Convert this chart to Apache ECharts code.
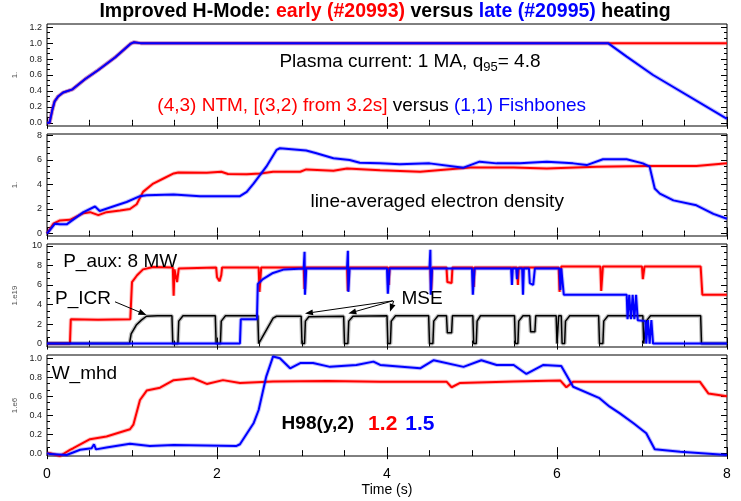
<!DOCTYPE html>
<html><head><meta charset="utf-8">
<script src="https://cdn.jsdelivr.net/npm/echarts@6.0.0/dist/echarts.min.js"></script>
<style>html,body{margin:0;padding:0;background:#fff}#c{width:741px;height:501px}</style>
</head><body><div id="c"></div><script>
// ---------------- data (time in s, value) ----------------
const ipEarly = [[0,0],[0.03,0],[0.06,0.15],[0.09,0.27],[0.13,0.33],[0.19,0.38],[0.3,0.42],[0.45,0.55],[0.6,0.66],[0.8,0.82],[0.98,0.99],[1.02,1.01],[1.1,1.0],[8,1.0]];
const ipLate = [[0,0],[0.03,0],[0.06,0.15],[0.09,0.27],[0.13,0.33],[0.19,0.38],[0.3,0.42],[0.45,0.55],[0.6,0.66],[0.8,0.82],[0.98,0.99],[1.02,1.01],[1.1,1.0],[6.6,1.0],[6.82,0.83],[7.13,0.6],[8.0,0.05]];
const neEarly = [[0,0],[0.02,0],[0.075,0.8],[0.153,1.07],[0.27,1.12],[0.43,1.66],[0.506,1.74],[0.604,1.5],[0.7,1.74],[0.86,1.88],[0.976,2.0],[1.055,2.38],[1.13,3.39],[1.25,4.07],[1.37,4.48],[1.49,4.89],[1.545,4.97],[1.88,4.95],[2.05,5.03],[2.13,4.84],[2.35,4.82],[2.51,4.89],[2.66,5.03],[2.98,5.03],[3.05,5.22],[3.37,5.11],[3.53,5.3],[3.92,5.16],[4.39,5.03],[4.98,5.38],[5.49,5.38],[5.88,5.3],[6.47,5.44],[7.05,5.49],[7.64,5.49],[8.0,5.71]];
const neLate = [[0,0],[0.02,0],[0.094,0.8],[0.153,0.75],[0.231,0.75],[0.43,1.74],[0.565,2.2],[0.62,1.84],[0.82,2.3],[0.937,2.57],[1.094,3.04],[1.173,3.11],[1.49,3.17],[1.8,3.04],[2.27,3.04],[2.35,3.39],[2.43,4.07],[2.58,5.44],[2.7,6.8],[2.74,6.94],[3.05,6.75],[3.17,6.53],[3.37,6.12],[3.56,5.98],[3.68,5.76],[3.92,5.71],[4.15,5.63],[4.5,5.71],[4.9,5.36],[5.09,5.85],[5.29,5.71],[5.56,5.71],[5.88,5.85],[6.19,5.71],[6.35,5.57],[6.54,6.04],[6.82,6.04],[7.01,5.71],[7.09,5.44],[7.15,3.66],[7.21,3.25],[7.37,2.7],[7.64,2.3],[7.84,1.6],[8.0,1.2]];
const pauxEarly = [[0,0],[0.27,0],[0.28,2.5],[0.6,2.45],[0.98,2.5],[1.0,6.3],[1.06,7.0],[1.13,7.6],[1.25,7.85],[1.48,7.8],[1.49,4.9],[1.5,7.6],[1.52,7.5],[1.53,6.3],[1.55,7.7],[1.99,7.8],[2.0,6.8],[2.03,6.4],[2.05,7.0],[2.06,7.8],[2.49,7.8],[2.5,5.3],[2.52,7.8],[3.02,7.8],[3.03,5.6],[3.04,7.8],[3.53,7.8],[3.54,5.4],[3.55,7.8],[4.01,7.8],[4.02,6.0],[4.03,7.8],[4.51,7.8],[4.52,5.5],[4.53,7.8],[4.7,7.8],[4.71,6.3],[4.76,6.2],[4.77,7.8],[5.01,7.8],[5.02,5.8],[5.03,7.8],[5.53,7.8],[5.54,6.0],[5.55,7.8],[6.02,7.8],[6.03,5.3],[6.05,7.9],[6.51,7.9],[6.52,5.4],[6.54,7.9],[7.0,7.9],[7.01,6.6],[7.03,7.9],[7.69,7.9],[7.71,5.0],[8,5.0]];
const pauxLate = [[0,0],[2.27,0],[2.28,2.5],[2.47,2.5],[2.48,6.1],[2.54,6.6],[2.65,7.2],[2.79,7.6],[3.02,7.7],[3.03,9.4],[3.035,5.0],[3.05,7.7],[3.53,7.7],[3.54,9.5],[3.545,5.3],[3.56,7.7],[4.0,7.7],[4.01,5.1],[4.03,7.7],[4.5,7.7],[4.51,9.6],[4.515,5.0],[4.53,7.7],[5.0,7.7],[5.01,5.0],[5.03,7.7],[5.46,7.7],[5.47,6.0],[5.48,7.7],[5.52,7.7],[5.53,6.6],[5.54,7.7],[5.59,7.7],[5.6,5.0],[5.61,7.7],[5.67,7.7],[5.68,6.2],[5.72,6.0],[5.74,7.7],[6.03,7.7],[6.04,5.5],[6.05,7.7],[6.07,7.7],[6.08,5.0],[6.82,5.0],[6.83,2.5],[6.85,5.0],[6.87,2.5],[6.89,5.0],[6.91,2.5],[6.93,5.0],[6.95,2.4],[7.04,2.3],[7.05,0],[7.07,2.4],[7.09,0],[7.11,2.4],[7.13,0],[8,0]];
const picr = [[0,0],[0.97,0],[0.99,1.0],[1.05,1.9],[1.11,2.4],[1.17,2.8],[1.3,2.85],[1.47,2.85],[1.48,0],[1.54,0],[1.55,2.3],[1.6,2.85],[1.98,2.85],[1.99,0],[2.04,0],[2.05,2.3],[2.1,2.85],[2.48,2.85],[2.49,0],[2.66,2.6],[2.7,2.8],[2.99,2.8],[3.0,0],[3.03,0],[3.04,2.3],[3.08,2.75],[3.49,2.8],[3.5,0],[3.54,0],[3.55,2.3],[3.6,2.8],[4.0,2.85],[4.01,0],[4.04,0],[4.05,2.3],[4.1,2.85],[4.49,2.85],[4.5,0],[4.54,0],[4.55,2.3],[4.6,2.85],[4.7,2.85],[4.71,1.1],[4.76,1.1],[4.77,2.85],[5.01,2.85],[5.02,0],[5.05,0],[5.06,2.3],[5.1,2.85],[5.5,2.85],[5.51,0],[5.54,0],[5.55,2.3],[5.6,2.85],[5.68,2.85],[5.69,1.2],[5.74,1.2],[5.75,2.85],[5.99,2.85],[6.0,0],[6.02,2.85],[6.05,2.85],[6.06,0],[6.09,0],[6.1,2.3],[6.15,2.85],[6.49,2.85],[6.5,0],[6.54,0],[6.55,2.3],[6.6,2.85],[7.01,2.85],[7.02,0],[7.04,0],[7.05,2.3],[7.1,2.85],[7.69,2.85],[7.7,0],[8,0]];
const wEarly = [[0,0],[0.035,0],[0.153,-0.03],[0.27,0.035],[0.31,0.052],[0.506,0.147],[0.7,0.175],[0.976,0.252],[1.016,0.3],[1.094,0.56],[1.173,0.66],[1.33,0.69],[1.49,0.77],[1.72,0.79],[1.88,0.73],[2.07,0.77],[2.27,0.74],[2.66,0.755],[3.3,0.76],[3.92,0.754],[4.7,0.754],[4.76,0.695],[4.86,0.74],[5.49,0.755],[6.04,0.765],[6.11,0.695],[6.19,0.754],[7.68,0.754],[7.78,0.63],[8.0,0.6]];
const wLate = [[0,0],[0.035,-0.01],[0.23,-0.02],[0.39,0.036],[0.525,0.052],[0.553,0.094],[0.576,0.04],[0.7,0.06],[0.976,0.1],[1.21,0.076],[1.49,0.087],[2.23,0.076],[2.27,0.094],[2.43,0.315],[2.49,0.455],[2.58,0.81],[2.66,1.02],[2.74,1.0],[2.86,0.895],[2.98,0.95],[3.13,0.95],[3.33,0.91],[3.64,0.93],[3.84,0.965],[3.92,0.93],[4.39,0.895],[4.55,0.98],[4.9,0.91],[5.11,0.98],[5.29,0.93],[5.49,0.93],[5.64,0.835],[5.84,0.93],[6.05,0.92],[6.19,0.7],[6.5,0.58],[6.62,0.49],[6.74,0.42],[6.9,0.315],[7.05,0.21],[7.15,0.041],[7.45,0.016],[8.0,-0.02]];

// tick labels
const timeTicks = [0,2,4,6,8];
const ipTicks = [0,0.2,0.4,0.6,0.8,1.0,1.2];
const neTicks = [0,2,4,6,8];
const pTicks = [0,2,4,6,8,10];
const wTicks = [0,0.2,0.4,0.6,0.8,1.0];

const RED = '#ff0000', BLUE = '#0000ff', BLACK = '#000000';
const FONT = '"Liberation Sans", Arial, Helvetica, sans-serif';

const panels = [
  {top:24, height:102, min:-0.04, max:1.24, ticks:ipTicks, nMinor:3, dec:1, name:'1.',
   series:[[ipEarly,RED],[ipLate,BLUE]]},
  {top:134, height:102, min:-0.2, max:8.1, ticks:neTicks, nMinor:4, dec:0, name:'1.',
   series:[[neEarly,RED],[neLate,BLUE]]},
  {top:244, height:103, min:-0.35, max:10.2, ticks:pTicks, nMinor:3, dec:0, name:'1.e19',
   series:[[pauxEarly,RED],[picr,BLACK],[pauxLate,BLUE]]},
  {top:355, height:101, min:-0.03, max:1.035, ticks:wTicks, nMinor:3, dec:1, name:'1.e6',
   series:[[wEarly,RED],[wLate,BLUE]]}
];

function minorVals(p){
  const step = (p.ticks[1]-p.ticks[0])/p.nMinor, out=[];
  const k0 = Math.ceil((p.min-p.ticks[0])/step-1e-9), k1 = Math.floor((p.max-p.ticks[0])/step+1e-9);
  for(let k=k0;k<=k1;k++){ if(((k%p.nMinor)+p.nMinor)%p.nMinor!==0) out.push(+(p.ticks[0]+k*step).toFixed(6)); }
  return out;
}

const grid=[], xAxis=[], yAxis=[], series=[];
panels.forEach((p,g)=>{
  grid.push({left:47,right:14,top:p.top,height:p.height,show:true,borderColor:'#000',borderWidth:1,backgroundColor:'transparent'});
  ['bottom','top'].forEach(pos=>{
    const showLab = (pos==='bottom' && g===3);
    xAxis.push({gridIndex:g,type:'value',min:0,max:8,interval:2,position:pos,
      axisLine:{show:false},splitLine:{show:false},
      axisTick:{show:true,inside:true,length:6,lineStyle:{color:'#000',width:1}},
      minorTick:{show:true,splitNumber:4,length:3,lineStyle:{color:'#000',width:1}},
      minorSplitLine:{show:false},
      axisLabel:{show:showLab,fontSize:14,fontFamily:FONT,color:'#000',margin:11},
      name: showLab?'Time (s)':'', nameLocation:'middle', nameGap:27,
      nameTextStyle:{fontSize:14,fontFamily:FONT,color:'#000'}});
  });
  const minors = minorVals(p);
  ['left','right'].forEach(pos=>{
    yAxis.push({gridIndex:g,type:'value',min:p.min,max:p.max,position:pos,
      axisLine:{show:false},splitLine:{show:false},
      axisTick:{show:true,inside:true,length:6,customValues:p.ticks,lineStyle:{color:'#000'}},
      axisLabel:{show:pos==='left',customValues:p.ticks,fontSize:9,fontFamily:FONT,color:'#222',margin:5,
        formatter:v=>Number(v).toFixed(p.dec)},
      name: pos==='left'?p.name:'', nameLocation:'middle', nameGap:28, nameRotate:90,
      nameTextStyle:{fontSize:8,fontFamily:FONT,color:'#555'}});
    yAxis.push({gridIndex:g,type:'value',min:p.min,max:p.max,position:pos,
      axisLine:{show:false},splitLine:{show:false},
      axisTick:{show:true,inside:true,length:3,customValues:minors,lineStyle:{color:'#000'}},
      axisLabel:{show:false,customValues:minors}});
  });
  p.series.forEach(([d,c])=>{
    // faint halo (signal noise band) then the trace itself
    series.push({type:'line',xAxisIndex:2*g,yAxisIndex:4*g,data:d,showSymbol:false,symbol:'none',
      lineStyle:{color:c,width:4,opacity:0.25},clip:true,silent:true,animation:false});
    series.push({type:'line',xAxisIndex:2*g,yAxisIndex:4*g,data:d,showSymbol:false,symbol:'none',
      lineStyle:{color:c,width:c===BLACK?1.5:2},itemStyle:{color:c},clip:true,silent:true,animation:false});
  });
});

const chart = echarts.init(document.getElementById('c'),null,{renderer:'canvas'});
chart.setOption({animation:false,backgroundColor:'#fff',grid,xAxis,yAxis,series});

const px = (g,t,v)=>chart.convertToPixel({xAxisIndex:2*g,yAxisIndex:4*g},[t,v]);
function rs(size,bold){
  const f = {fontSize:size,fontFamily:FONT,fontWeight:bold?'bold':'normal',lineHeight:size+6};
  const big = Object.assign({},f,{fontSize:size+2});
  return {
    k:Object.assign({fill:'#000',color:'#000'},f),
    r:Object.assign({fill:RED,color:RED},f),
    b:Object.assign({fill:BLUE,color:BLUE},f),
    rn:Object.assign({fill:RED,color:RED,padding:[0,0,0,14]},big),
    bn:Object.assign({fill:BLUE,color:BLUE,padding:[0,0,0,8]},big),
    sub:{fill:'#000',color:'#000',fontSize:13,fontFamily:FONT,lineHeight:size+6,verticalAlign:'bottom'}
  };
}
const texts = [
  {g:0,at:[4.27,0.77],align:'center',size:19,text:'{k|Plasma current: 1 MA, q}{sub|95}{k|= 4.8}'},
  {g:0,at:[3.82,0.22],align:'center',size:19,text:'{r|(4,3) NTM, [(3,2) from 3.2s]}{k| versus }{b|(1,1) Fishbones}'},
  {g:1,at:[4.59,2.57],align:'center',size:19,text:'{k|line-averaged electron density}'},
  {g:2,at:[0.19,8.39],align:'left',size:19,text:'{k|P_aux: 8 MW}'},
  {g:2,at:[0.094,4.62],align:'left',size:19,text:'{k|P_ICR}'},
  {g:2,at:[4.17,4.55],align:'left',size:19,text:'{k|MSE}'},
  {g:3,at:[0.055,0.84],align:'left',size:19,text:'{k|W_mhd}'},
  {g:3,at:[2.76,0.305],align:'left',size:19,bold:true,text:'{k|H98(y,2)}{rn|1.2}{bn|1.5}'}
];
const arrows = [
  {g:2,from:[0.8,4.28],to:[1.17,2.93]},
  {g:2,from:[4.07,4.38],to:[3.035,3.08]},
  {g:2,from:[4.07,4.38],to:[3.545,3.08]},
  {g:2,from:[4.08,4.38],to:[4.035,3.25]}
];
const graphic = [];
graphic.push({type:'text',x:385,y:12,z:100,style:{
  text:'{k|Improved H-Mode: }{r|early (#20993)}{k| versus }{b|late (#20995)}{k| heating}',
  rich:rs(19.5,true),align:'center',verticalAlign:'middle',textAlign:'center',textVerticalAlign:'middle'}});
texts.forEach(a=>{
  const [x,y]=px(a.g,a.at[0],a.at[1]);
  graphic.push({type:'text',x,y,z:100,style:{text:a.text,rich:rs(a.size,a.bold),
    align:a.align,verticalAlign:'middle',textAlign:a.align,textVerticalAlign:'middle'}});
});
arrows.forEach(a=>{
  const [x1,y1]=px(a.g,a.from[0],a.from[1]);
  const [x2,y2]=px(a.g,a.to[0],a.to[1]);
  const ang=Math.atan2(y2-y1,x2-x1), L=8, W=3;
  const bx=x2-L*Math.cos(ang), by=y2-L*Math.sin(ang);
  graphic.push({type:'line',z:100,shape:{x1,y1,x2:bx,y2:by},style:{stroke:'#000',lineWidth:1}});
  graphic.push({type:'polygon',z:100,shape:{points:[[x2,y2],[bx-W*Math.sin(ang),by+W*Math.cos(ang)],[bx+W*Math.sin(ang),by-W*Math.cos(ang)]]},style:{fill:'#000'}});
});
chart.setOption({graphic});
</script></body></html>
